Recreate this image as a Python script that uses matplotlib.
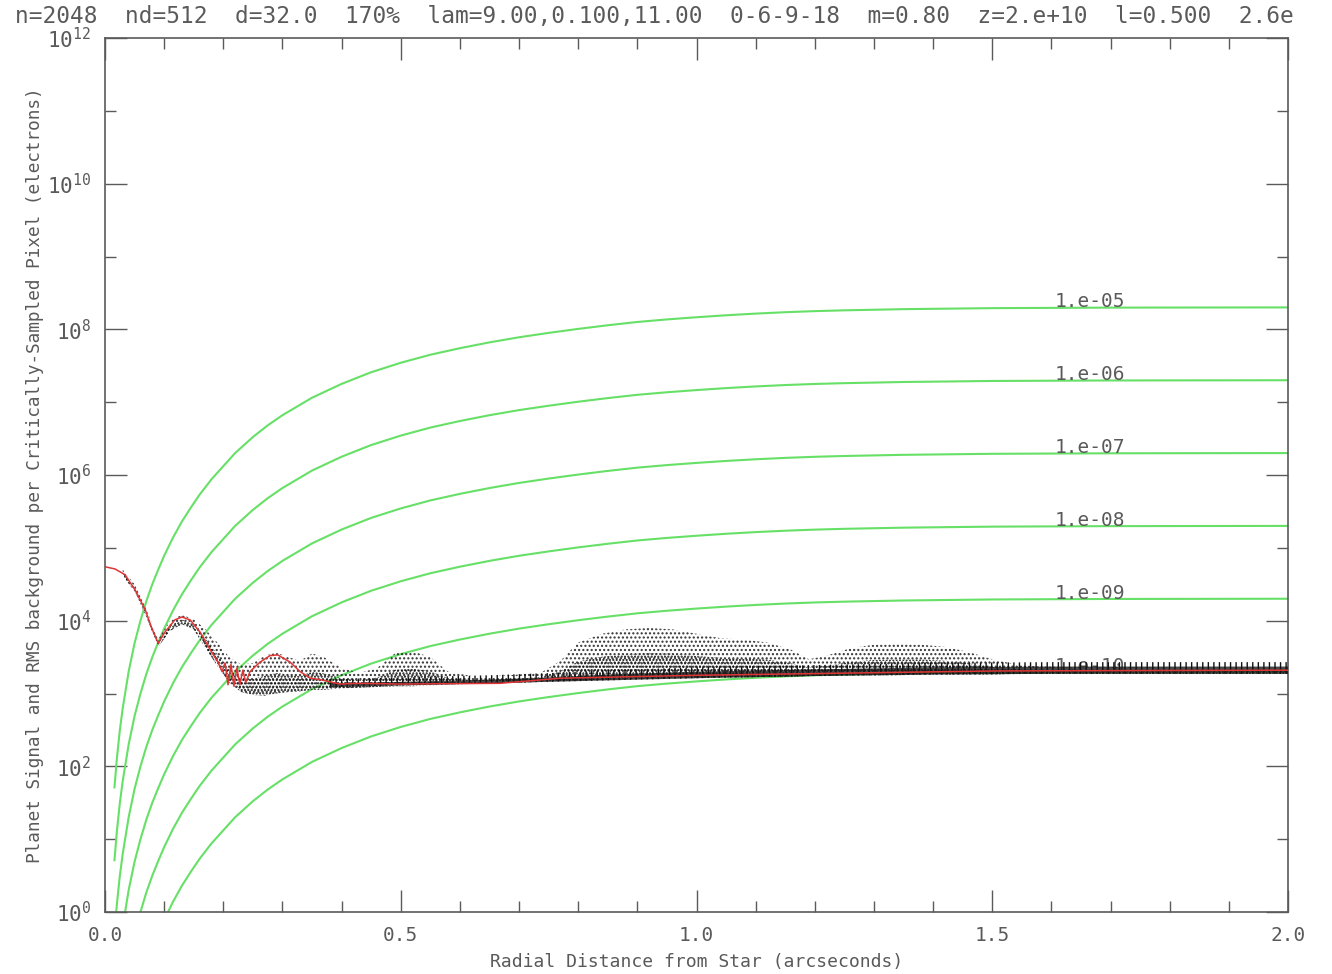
import matplotlib
matplotlib.use('Agg')
import matplotlib.pyplot as plt
import numpy as np

# perfil comun de las curvas de contraste (log10 del factor)
r_prof = [0.016, 0.02, 0.025, 0.03, 0.04, 0.05, 0.06, 0.07, 0.08, 0.09, 0.10, 0.115, 0.13,
          0.145, 0.16, 0.18, 0.20, 0.22, 0.25, 0.275, 0.30, 0.325, 0.35, 0.40, 0.45, 0.50,
          0.55, 0.60, 0.65, 0.70, 0.75, 0.80, 0.85, 0.90, 0.95, 1.00, 1.05, 1.10, 1.15,
          1.20, 1.25, 1.35, 1.50, 1.70, 2.00]
logf_prof = [-6.59, -6.20, -5.81, -5.50, -5.00, -4.61, -4.30, -4.03, -3.80, -3.60, -3.41, -3.16,
             -2.94, -2.75, -2.57, -2.36, -2.18, -2.00, -1.78, -1.62, -1.48, -1.36, -1.24,
             -1.05, -0.89, -0.76, -0.65, -0.56, -0.48, -0.41, -0.35, -0.295, -0.245, -0.20,
             -0.165, -0.135, -0.108, -0.085, -0.066, -0.051, -0.040, -0.024, -0.010, -0.003, 0.0]
contrastes = ["1.e-05", "1.e-06", "1.e-07", "1.e-08", "1.e-09", "1.e-10"]
mesetas = [2.0e8, 2.0e7, 2.0e6, 2.0e5, 2.0e4, 2.0e3]

# curva roja (RMS de fondo)
r_rojo = [0.0, 0.017, 0.034, 0.051, 0.068, 0.079, 0.090, 0.101, 0.118, 0.130, 0.144, 0.161,
          0.178, 0.191, 0.198, 0.203, 0.208, 0.213, 0.218, 0.223, 0.228, 0.233, 0.238, 0.245,
          0.262, 0.279, 0.292, 0.313, 0.330, 0.347, 0.364, 0.397, 0.431, 0.499, 0.668, 0.77,
          1.0, 1.51, 2.0]
log_rojo = [4.74, 4.71, 4.63, 4.42, 4.15, 3.90, 3.69, 3.84, 4.01, 4.05, 4.01, 3.84,
            3.60, 3.43, 3.30, 3.42, 3.12, 3.40, 3.10, 3.35, 3.12, 3.32, 3.15, 3.30,
            3.43, 3.52, 3.53, 3.43, 3.30, 3.21, 3.19, 3.13, 3.14, 3.13, 3.14, 3.21,
            3.25, 3.31, 3.32]

# nube de puntos negros: envolventes superior e inferior (log10)
x_nube = [0.03, 0.05, 0.07, 0.09, 0.11, 0.13, 0.15, 0.17, 0.19, 0.21, 0.23, 0.25, 0.27, 0.29,
          0.31, 0.33, 0.35, 0.37, 0.40, 0.43, 0.46, 0.49, 0.52, 0.55, 0.58, 0.62, 0.66, 0.70,
          0.74, 0.77, 0.80, 0.84, 0.88, 0.92, 0.96, 1.00, 1.04, 1.08, 1.12, 1.16, 1.19, 1.22,
          1.26, 1.30, 1.34, 1.38, 1.42, 1.46, 1.50, 1.54, 1.58, 1.65, 1.75, 1.85, 2.00]
nube_sup = [4.70, 4.50, 4.15, 3.75, 4.00, 4.08, 4.02, 3.88, 3.70, 3.50, 3.40, 3.42, 3.52, 3.56,
            3.50, 3.45, 3.55, 3.50, 3.35, 3.28, 3.35, 3.55, 3.58, 3.50, 3.30, 3.24, 3.24, 3.26,
            3.30, 3.45, 3.70, 3.82, 3.88, 3.90, 3.88, 3.82, 3.76, 3.74, 3.70, 3.60, 3.47, 3.52,
            3.62, 3.67, 3.68, 3.67, 3.64, 3.57, 3.47, 3.40, 3.37, 3.36, 3.36, 3.35, 3.35]
nube_inf = [4.62, 4.40, 4.05, 3.64, 3.86, 3.95, 3.88, 3.62, 3.38, 3.15, 3.02, 2.98, 2.97, 3.00,
            3.02, 3.03, 3.05, 3.05, 3.07, 3.08, 3.09, 3.10, 3.10, 3.11, 3.12, 3.13, 3.14, 3.15,
            3.16, 3.17, 3.18, 3.19, 3.20, 3.20, 3.21, 3.21, 3.22, 3.22, 3.23, 3.23, 3.24, 3.24,
            3.25, 3.25, 3.25, 3.26, 3.26, 3.26, 3.26, 3.27, 3.27, 3.27, 3.27, 3.27, 3.27]

# banda densa cerca del fondo
x_banda = [0.38, 0.45, 0.55, 0.65, 0.75, 0.85, 1.00, 1.20, 1.40, 1.60, 1.80, 2.00]
banda_inf = [3.09, 3.10, 3.12, 3.14, 3.16, 3.18, 3.21, 3.24, 3.26, 3.27, 3.27, 3.27]
banda_sup = [3.13, 3.15, 3.17, 3.19, 3.22, 3.26, 3.30, 3.33, 3.36, 3.37, 3.37, 3.37]

titulo = ("n=2048  nd=512  d=32.0  170%  lam=9.00,0.100,11.00  0-6-9-18  "
          "m=0.80  z=2.e+10  l=0.500  2.6e")

gris = '#5a5a5a'
verde = '#66e066'
plt.rcParams['font.family'] = ['DejaVu Sans Mono', 'DejaVu Sans']
plt.rcParams['hatch.linewidth'] = 1.0

fig = plt.figure(figsize=(13.32, 9.74), dpi=100)
ax = fig.add_axes([105/1332, 1-912/974, (1288-105)/1332, (912-38)/974])

# curvas de contraste
for lab, m in zip(contrastes, mesetas):
    ax.plot(r_prof, m * 10**np.array(logf_prof), color=verde, lw=1.5, zorder=2)
    ax.text(1.605, m, lab, fontsize=14, color=gris, va='baseline', ha='left', zorder=3)

# nube negra (mas densa hacia abajo)
sup = 10**np.array(nube_sup)
inf = 10**np.array(nube_inf)
ax.fill_between(x_nube, inf, sup, facecolor='none', edgecolor='#333333',
                hatch='....', linewidth=0, zorder=4)
ax.fill_between(x_nube, inf, np.sqrt(sup * inf), facecolor='none', edgecolor='#111111',
                hatch='.....', linewidth=0, zorder=4)
ax.fill_between(x_banda, 10**np.array(banda_inf), 10**np.array(banda_sup),
                facecolor='#1a1a1a', alpha=0.8, edgecolor='none', zorder=5)
ax.fill_between(x_banda, 10**np.array(banda_inf), 10**np.array(banda_sup) * 1.15,
                facecolor='none', edgecolor='#111111', hatch='|||', linewidth=0, zorder=5)

ax.plot(r_rojo, 10**np.array(log_rojo), color='#e03535', lw=1.1, zorder=6)

ax.set_yscale('log')
ax.set_xlim(0, 2)
ax.set_ylim(1, 1e12)
ax.set_xticks([0, 0.5, 1.0, 1.5, 2.0])
ax.set_xticklabels(['0.0', '0.5', '1.0', '1.5', '2.0'])
ax.set_xticks(np.arange(0, 2.01, 0.1), minor=True)
ax.set_yticks([10.0**k for k in range(0, 13, 2)])
ax.set_yticklabels([r'$\mathdefault{10^{%d}}$' % k for k in range(0, 13, 2)])
ax.set_yticks([10.0**k for k in range(1, 13, 2)], minor=True)
ax.yaxis.set_minor_formatter(matplotlib.ticker.NullFormatter())

ax.tick_params(which='both', direction='in', top=True, right=True, color=gris,
               labelcolor=gris, width=1)
ax.tick_params(axis='x', labelsize=14)
ax.tick_params(axis='y', labelsize=15)
ax.tick_params(which='major', length=16, pad=10)
ax.tick_params(which='minor', length=8)
for s in ax.spines.values():
    s.set_color(gris)
    s.set_linewidth(1.2)

ax.set_xlabel('Radial Distance from Star (arcseconds)', fontsize=13, color=gris, labelpad=6)
ax.set_ylabel('Planet Signal and RMS background per Critically-Sampled Pixel (electrons)',
              fontsize=12.8, color=gris, labelpad=2)
fig.text(15/1332, 1-16/974, titulo, fontsize=16.4, color=gris, va='center', ha='left')

fig.savefig('out.png', dpi=100)
